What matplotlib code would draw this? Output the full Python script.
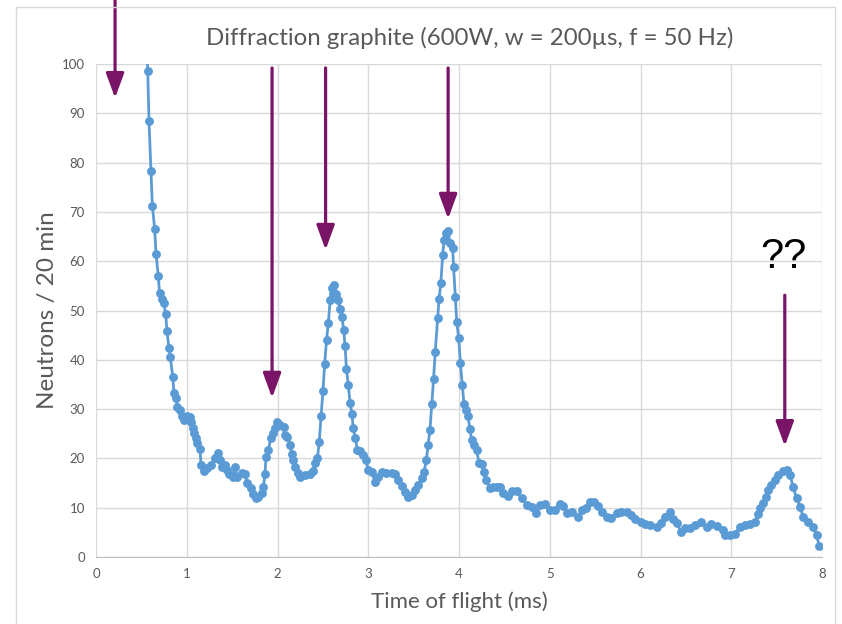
import matplotlib
matplotlib.use("Agg")
import matplotlib.pyplot as plt
from matplotlib.patches import Rectangle

# ---- data ----
tof_ms = [0.548, 0.570, 0.584, 0.606, 0.621, 0.647, 0.661, 0.687, 0.700, 0.727,
          0.746, 0.768, 0.782, 0.805, 0.819, 0.845, 0.860, 0.885, 0.896, 0.926,
          0.951, 0.973, 1.006, 1.036, 1.050, 1.065, 1.083, 1.100, 1.116, 1.146,
          1.157, 1.190, 1.220, 1.264, 1.310, 1.348, 1.366, 1.385, 1.420, 1.447,
          1.470, 1.510, 1.530, 1.557, 1.605, 1.642, 1.667, 1.705, 1.733, 1.763,
          1.790, 1.826, 1.845, 1.862, 1.873, 1.900, 1.925, 1.947, 1.970, 1.998,
          2.030, 2.070, 2.080, 2.110, 2.140, 2.156, 2.170, 2.190, 2.230, 2.250,
          2.300, 2.360, 2.390, 2.410, 2.440, 2.460, 2.480, 2.500, 2.520, 2.540,
          2.560, 2.580, 2.597, 2.608, 2.626, 2.650, 2.670, 2.690, 2.710, 2.730,
          2.745, 2.760, 2.780, 2.800, 2.820, 2.835, 2.857, 2.880, 2.910, 2.940,
          2.975, 3.000, 3.040, 3.070, 3.110, 3.150, 3.200, 3.260, 3.290, 3.330,
          3.370, 3.400, 3.440, 3.480, 3.510, 3.550, 3.590, 3.615, 3.640, 3.660,
          3.680, 3.700, 3.720, 3.738, 3.765, 3.780, 3.800, 3.820, 3.835, 3.857,
          3.880, 3.900, 3.930, 3.940, 3.960, 3.975, 3.997, 4.015, 4.036, 4.055,
          4.077, 4.100, 4.120, 4.140, 4.165, 4.195, 4.220, 4.250, 4.275, 4.300,
          4.340, 4.380, 4.420, 4.450, 4.490, 4.540, 4.580, 4.640, 4.690, 4.750,
          4.800, 4.850, 4.890, 4.950, 5.000, 5.060, 5.110, 5.150, 5.190, 5.240,
          5.310, 5.350, 5.400, 5.440, 5.490, 5.530, 5.580, 5.630, 5.680, 5.740,
          5.790, 5.850, 5.890, 5.940, 6.000, 6.050, 6.100, 6.180, 6.230, 6.270,
          6.320, 6.360, 6.400, 6.450, 6.490, 6.540, 6.600, 6.670, 6.730, 6.780,
          6.840, 6.910, 6.930, 6.990, 7.040, 7.100, 7.150, 7.210, 7.260, 7.300,
          7.320, 7.350, 7.380, 7.410, 7.440, 7.480, 7.520, 7.570, 7.610, 7.650,
          7.680, 7.720, 7.760, 7.790, 7.850, 7.900, 7.940, 7.970]
neutrons = [112.0, 98.6, 88.4, 78.2, 71.2, 66.5, 61.5, 56.9, 53.5, 52.3,
            51.5, 49.3, 45.8, 42.3, 40.5, 36.6, 33.2, 32.3, 30.5, 29.8,
            28.7, 27.8, 28.5, 28.3, 27.4, 26.1, 25.1, 24.1, 23.1, 22.0,
            18.7, 17.5, 18.0, 18.7, 20.0, 21.0, 19.7, 18.3, 18.7, 17.6,
            16.8, 16.3, 18.3, 16.3, 17.1, 16.8, 15.0, 14.0, 12.8, 11.9,
            12.2, 12.9, 14.3, 16.8, 20.3, 21.7, 24.1, 25.2, 26.1, 27.4,
            26.8, 26.4, 24.7, 24.4, 22.7, 20.9, 19.7, 18.3, 17.0, 16.2,
            16.6, 16.8, 17.5, 19.0, 20.1, 23.4, 28.5, 33.6, 39.1, 44.0,
            47.4, 52.1, 54.5, 53.4, 55.2, 53.4, 52.1, 50.4, 48.7, 46.0,
            42.7, 38.1, 34.9, 31.2, 29.0, 26.1, 24.1, 21.7, 21.4, 20.7,
            19.7, 17.6, 17.3, 15.3, 16.3, 17.3, 17.1, 17.0, 16.8, 15.6,
            14.4, 13.2, 12.2, 12.6, 13.6, 14.6, 16.0, 17.2, 19.7, 22.7,
            25.8, 31.1, 36.2, 41.6, 48.4, 52.3, 55.6, 61.3, 64.2, 65.7,
            66.2, 63.6, 62.6, 58.8, 52.7, 47.6, 44.4, 39.3, 34.9, 31.0,
            29.8, 28.5, 25.9, 23.8, 22.7, 21.7, 19.0, 18.8, 17.3, 15.7,
            13.9, 14.2, 14.2, 14.1, 12.9, 12.4, 13.4, 13.4, 11.9, 10.5,
            10.2, 9.0, 10.5, 10.8, 9.5, 9.5, 10.8, 10.3, 9.0, 9.2,
            8.2, 9.5, 9.9, 11.2, 11.2, 10.3, 9.2, 8.2, 8.0, 9.0,
            9.2, 9.2, 8.5, 7.8, 7.0, 6.6, 6.5, 6.0, 6.8, 8.2,
            9.2, 7.8, 6.8, 5.1, 5.8, 5.8, 6.5, 7.0, 6.0, 6.7,
            6.3, 5.5, 4.5, 4.5, 4.7, 6.1, 6.5, 6.7, 7.2, 8.7,
            9.9, 10.9, 12.2, 13.6, 14.6, 15.6, 16.6, 17.5, 17.6, 16.6,
            14.3, 11.9, 10.2, 8.2, 7.2, 6.1, 4.5, 2.2]

# arrows: x position, start (top) y, tip y  (data units)
arrow_x = [0.21, 1.94, 2.53, 3.88, 7.59]
arrow_from = [113.0, 99.2, 99.2, 99.2, 53.1]
arrow_to = [93.1, 32.3, 62.3, 68.6, 22.5]

title = "Diffraction graphite (600W, w = 200µs, f = 50 Hz)"
xlabel = "Time of flight (ms)"
ylabel = "Neutrons / 20 min"
x_ticks = [0, 1, 2, 3, 4, 5, 6, 7, 8]
y_ticks = [0, 10, 20, 30, 40, 50, 60, 70, 80, 90, 100]

# ---- figure ----
plt.rcParams['font.family'] = ['Lato', 'DejaVu Sans']
W, H = 842, 624
fig = plt.figure(figsize=(W / 100, H / 100), dpi=100)
ax = fig.add_axes([96 / W, 1 - 557 / H, (822 - 96) / W, (557 - 64) / H])

# chart border
fig.patches.append(Rectangle((16 / W, -0.1), (835 - 16) / W, 1.1 - 7 / H,
                             transform=fig.transFigure, fill=False,
                             edgecolor='#d9d9d9', lw=1.0))

grid_c = '#d9d9d9'
ax.set_xlim(0, 8)
ax.set_ylim(0, 100)
ax.set_xticks(x_ticks)
ax.set_yticks(y_ticks)
ax.grid(True, color=grid_c, lw=1.0)
ax.set_axisbelow(True)
for s in ['top', 'right', 'left']:
    ax.spines[s].set_visible(False)
ax.spines['bottom'].set_color('#bfbfbf')
ax.tick_params(length=0, colors='#595959', labelsize=9.5, pad=8)

ax.plot(tof_ms, neutrons, color='#5B9BD5', lw=2.0, marker='o',
        markersize=6.4, markeredgewidth=0, zorder=3)

ax.set_title(title, fontsize=17.3, color='#595959', pad=14, x=0.515)
ax.set_xlabel(xlabel, fontsize=16, color='#595959', labelpad=8)
ax.set_ylabel(ylabel, fontsize=17.5, color='#595959', labelpad=3)

acol = '#7A1467'
for xa, y0, y1 in zip(arrow_x, arrow_from, arrow_to):
    ax.annotate('', xy=(xa, y1), xytext=(xa, y0), xycoords='data',
                annotation_clip=False,
                arrowprops=dict(arrowstyle='-|>,head_length=1.5,head_width=0.55',
                                color=acol, lw=2.3, shrinkA=0, shrinkB=0,
                                mutation_scale=10))

ax.text(7.58, 60.9, '??', fontsize=30, color='black', ha='center', va='center',
        family=['Liberation Sans', 'DejaVu Sans'])

fig.savefig('out.png', dpi=100)
